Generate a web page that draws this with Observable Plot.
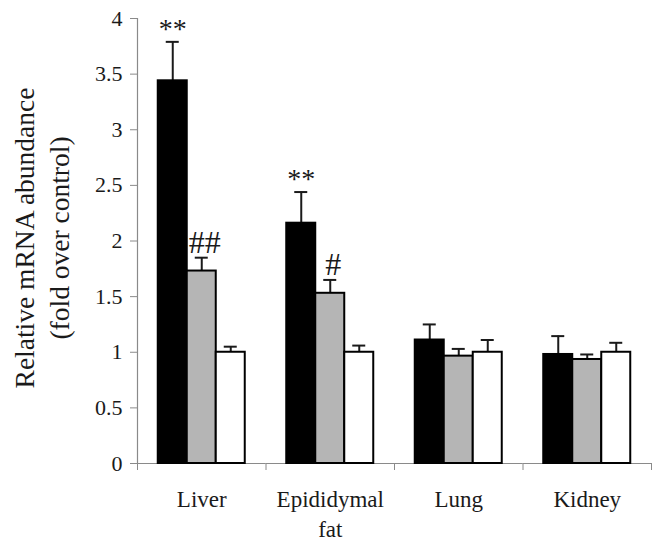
<!DOCTYPE html>
<html>
<head>
<meta charset="utf-8">
<script src="https://cdn.jsdelivr.net/npm/d3@7"></script>
<script src="https://cdn.jsdelivr.net/npm/@observablehq/plot@0.6"></script>
<style>
  html, body { margin: 0; padding: 0; background: #fff; }
  #chart { width: 657px; height: 542px; }
</style>
</head>
<body>
<div id="chart"></div>
<script>
// ---- data ----
const tissues = ["Liver", "Epididymal\nfat", "Lung", "Kidney"];
const groups = ["Treatment A", "Treatment B", "Control"];
const groupFills = ["#000000", "#b5b5b5", "#ffffff"];

const treatA = [3.44, 2.16, 1.11, 0.98];
const treatASem = [0.35, 0.28, 0.14, 0.165];
const treatB = [1.73, 1.53, 0.965, 0.935];
const treatBSem = [0.12, 0.12, 0.065, 0.045];
const control = [1.0, 1.0, 1.0, 1.0];
const controlSem = [0.05, 0.06, 0.11, 0.085];

const sigA = ["**", "**", "", ""];
const sigB = ["##", "#", "", ""];
const sigC = ["", "", "", ""];

const yTicks = [0, 0.5, 1, 1.5, 2, 2.5, 3, 3.5, 4];
const yLabel = "Relative mRNA abundance\n(fold over control)";

// ---- table built from the arrays ----
const series = [
  {group: groups[0], values: treatA, sem: treatASem, sig: sigA},
  {group: groups[1], values: treatB, sem: treatBSem, sig: sigB},
  {group: groups[2], values: control, sem: controlSem, sig: sigC}
];
const rows = [];
tissues.forEach((t, i) => {
  series.forEach(s => {
    rows.push({tissue: t, group: s.group, value: s.values[i], sem: s.sem[i], top: s.values[i] + s.sem[i], sig: s.sig[i]});
  });
});

const W = 657, H = 542, ML = 137, MR = 6, MT = 18, MB = 79;
const facetW = (W - ML - MR) / tissues.length;
const axisGray = "#8a8a8a";
const ink = "#1a1a1a";
const serif = "'Liberation Serif', 'Times New Roman', Times, serif";

const chart = Plot.plot({
  width: W,
  height: H,
  marginLeft: ML,
  marginRight: MR,
  marginTop: MT,
  marginBottom: MB,
  style: {fontFamily: serif, color: ink, background: "#fff"},
  fx: {domain: tissues, padding: 0, round: false, axis: null},
  x: {domain: groups, paddingInner: 0, paddingOuter: 0.7155, round: false, axis: null},
  y: {domain: [0, 4], axis: null},
  color: {domain: groups, range: groupFills},
  marks: [
    // x axis line
    Plot.ruleY([0], {stroke: axisGray, strokeWidth: 1.2}),
    // y axis line
    Plot.frame({anchor: "left", stroke: axisGray, strokeWidth: 1.2, facetAnchor: "left"}),
    // error bars (upper only)
    Plot.ruleX(rows, {fx: "tissue", x: "group", y1: "value", y2: "top", stroke: ink, strokeWidth: 2}),
    Plot.tickY(rows, {fx: "tissue", x: "group", y: "top", stroke: ink, strokeWidth: 2, insetLeft: 8, insetRight: 8}),
    // bars
    Plot.barY(rows, {fx: "tissue", x: "group", y: "value", fill: "group", stroke: "#000", strokeWidth: 2}),
    // significance marks
    Plot.text(rows.filter(d => d.sig.includes("*")), {fx: "tissue", x: "group", y: "top", text: "sig", lineAnchor: "bottom", dy: -4, fontSize: 28, fontFamily: serif, fill: ink}),
    Plot.text(rows.filter(d => d.sig.includes("#")), {fx: "tissue", x: "group", y: "top", text: "sig", lineAnchor: "bottom", dy: -5, dx: 3, fontSize: 32, fontFamily: serif, fill: ink}),
    // y axis
    Plot.axisY({ticks: yTicks, tickSize: 7, tickPadding: 8, fontSize: 22, fontFamily: serif, stroke: axisGray, fill: ink, label: null, tickFormat: d => String(d)}),
    // y axis title
    Plot.text([yLabel], {frameAnchor: "left", textAnchor: "middle", rotate: -90, dx: -97, dy: -3, fontSize: 27.5, lineHeight: 1.27, fontFamily: serif, fill: ink, facetAnchor: "left"}),
    // category boundary ticks on x axis
    Plot.axisFx({anchor: "bottom", tickSize: 7, text: null, dx: -facetW / 2, stroke: axisGray, label: null}),
    Plot.axisFx({anchor: "bottom", ticks: [tissues[tissues.length - 1]], tickSize: 7, text: null, dx: facetW / 2, stroke: axisGray, label: null}),
    // category labels
    Plot.axisFx({anchor: "bottom", tickSize: 0, tickPadding: 22, fontSize: 23, lineHeight: 1.3, fontFamily: serif, fill: ink, label: null})
  ]
});

document.getElementById("chart").appendChild(chart);
</script>
</body>
</html>
